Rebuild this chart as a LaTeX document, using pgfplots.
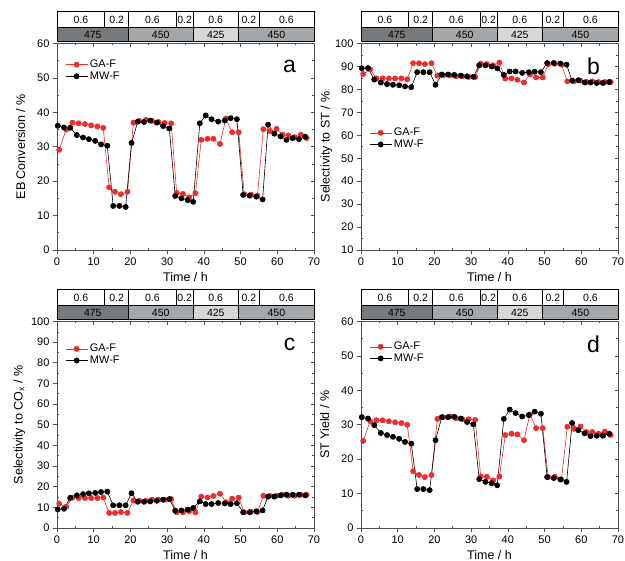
\documentclass[border=0pt]{standalone}
\usepackage{pgfplots}
\pgfplotsset{compat=1.18}
\usepackage{pgfplotstable}
\usepackage{fontspec}
\setmainfont{Liberation Sans}

\definecolor{gafred}{RGB}{236,45,45}
\definecolor{c475}{RGB}{118,122,124}
\definecolor{c450}{RGB}{163,167,169}
\definecolor{c425}{RGB}{214,215,216}
\definecolor{frame}{RGB}{80,80,80}

% GA-F (red)
\pgfplotstableread{
t    a    b    c    d
0.6  29.1 86.7 11.8 25.3
2.5  35.0 88.7 10.3 31.0
4.2  37.0 84.8 14.7 31.3
5.9  36.8 84.8 14.5 31.3
7.6  36.6 84.8 14.5 31.0
9.3  36.2 84.8 14.5 30.7
11.0 35.9 84.8 14.5 30.5
12.6 35.5 84.4 14.8 30.0
14.2 18.2 91.4 7.3  16.5
15.8 16.9 91.4 7.3  15.4
17.4 16.2 91.0 7.7  14.8
19.2 16.9 91.4 7.3  15.4
20.8 37.0 86.0 13.4 31.7
22.4 37.5 86.1 13.2 32.2
24.2 37.8 86.1 13.2 32.4
25.9 37.5 85.7 13.7 31.9
27.6 37.2 85.7 13.7 31.6
29.3 36.9 85.4 13.7 31.6
31.1 36.8 85.4 14.0 31.4
32.6 16.6 91.2 7.6  15.0
34.3 16.3 91.0 7.6  14.9
36.0 15.3 90.5 8.1  13.8
37.7 16.5 91.7 7.6  15.0
39.3 32.0 84.7 15.2 27.0
41.0 32.3 84.8 14.8 27.4
42.6 32.3 84.2 15.5 27.2
44.4 30.8 83.0 16.6 25.5
46.0 38.2 86.5 12.5 33.0
47.7 34.2 85.2 14.2 29.0
49.5 34.2 85.2 14.7 29.0
51.0 16.2 91.0 7.6  14.8
52.8 16.1 91.2 7.9  14.9
54.6 15.8 90.8 7.7  14.1
56.2 35.1 83.5 15.6 29.4
58.0 34.6 83.5 15.6 28.8
59.8 35.2 83.8 15.6 29.5
61.4 33.5 83.3 16.1 27.9
63.0 33.3 83.5 15.6 27.9
64.7 32.8 83.2 15.6 27.4
66.4 33.5 83.2 16.1 28.0
68.0 32.5 83.2 16.1 27.0
}\gaf

% MW-F (black)
\pgfplotstableread{
t    a    b    c    d
0.2  36.1 89.2 9.0  32.2
1.9  35.6 89.3 9.3  31.8
3.6  35.5 84.3 14.6 29.9
5.4  33.4 83.0 15.8 27.6
7.1  32.7 82.3 16.4 27.0
8.7  32.2 82.0 16.8 26.5
10.4 31.7 81.8 17.0 25.9
12.0 30.7 81.3 17.4 25.0
13.7 30.3 81.0 17.6 24.5
15.3 12.8 87.5 11.0 11.3
17.0 12.8 87.5 11.0 11.3
18.7 12.5 87.5 11.0 11.0
20.3 31.1 82.0 16.8 25.5
22.0 37.3 86.5 12.7 32.2
23.7 37.2 86.5 12.7 32.2
25.4 37.6 86.3 12.9 32.3
27.2 37.0 86.0 13.2 31.8
28.9 36.0 85.7 13.7 30.8
30.6 35.3 85.5 14.0 30.1
32.2 15.7 90.5 8.4  14.2
33.9 15.0 90.5 8.5  13.4
35.6 14.5 90.0 8.9  13.0
37.1 14.0 89.2 9.7  12.4
38.9 36.8 86.3 12.9 31.7
40.5 39.1 87.8 11.6 34.4
42.1 38.0 87.8 11.6 33.4
43.9 37.3 87.2 12.1 32.4
45.7 37.6 87.5 11.9 32.8
47.3 38.3 87.7 11.6 33.8
49.0 38.0 87.5 12.0 33.2
50.7 16.0 91.5 7.6  14.8
52.5 15.8 91.5 7.6  14.5
54.3 15.5 91.3 8.1  14.1
56.0 14.7 90.8 8.5  13.4
57.5 36.4 83.8 15.2 30.5
59.2 33.8 84.0 15.2 28.4
60.9 33.0 83.0 15.8 27.5
62.5 32.0 83.0 16.1 26.7
64.2 32.5 82.8 16.1 26.8
65.9 32.2 82.8 16.1 26.8
67.6 32.9 83.2 15.8 27.4
}\mwf

\pgfplotsset{
  common/.style={scale only axis, anchor=south west, width=257pt, height=206.5pt,
    xmin=0, xmax=70, xtick distance=10, ytick distance=10,
    /pgf/number format/assume math mode=true},
  base/.style={common, tick align=outside, xtick pos=lower, ytick pos=left,
    minor tick num=0, major tick length=4pt,
    tick style={frame, line width=0.6pt},
    axis line style={frame, line width=0.8pt},
    ticklabel style={font=\fontsize{11}{13}\selectfont},
    label style={font=\fontsize{12.5}{15}\selectfont},
    xlabel={Time / h},
    legend cell align=left,
    legend style={anchor=north west, draw=none, fill=none,
      font=\fontsize{11}{13}\selectfont, row sep=-1.5pt},
    legend image code/.code={%
      \draw[mark repeat=2,mark phase=2] plot coordinates {(0pt,0pt)(11pt,0pt)(22pt,0pt)};}},
  ovl/.style={common, tick align=inside, minor tick num=1,
    major tick length=3.5pt, minor tick length=2pt,
    tick style={frame, line width=0.6pt},
    axis line style={draw=none}, xticklabels={}, yticklabels={}},
  gafst/.style={color=gafred, line width=0.6pt, mark=*, mark size=2.6pt,
    mark options={draw=gafred, fill=gafred}},
  mwfst/.style={color=black, line width=0.6pt, mark=*, mark size=2.6pt,
    mark options={draw=black, fill=black}},
}

\newcommand{\vl}[3]{\draw[line width=0.6pt] (axis cs:#1,#2) -- (axis cs:#1,#3);}

\newcommand{\band}[2]{%
\begin{axis}[scale only axis, anchor=south west, at={(#1pt,#2pt)}, yshift=208.5pt,
  width=257pt, height=30pt, xmin=0, xmax=70, ymin=0, ymax=30, hide axis, clip=false]
  \fill[c475] (axis cs:0,0) rectangle (axis cs:19.5,14);
  \fill[c450] (axis cs:19.5,0) rectangle (axis cs:37,14);
  \fill[c425] (axis cs:37,0) rectangle (axis cs:49.5,14);
  \fill[c450] (axis cs:49.5,0) rectangle (axis cs:70,14);
  \draw[line width=0.6pt] (axis cs:0,0) rectangle (axis cs:70,30);
  \draw[line width=0.6pt] (axis cs:0,14) -- (axis cs:70,14);
  \vl{19.5}{0}{14}\vl{37}{0}{14}\vl{49.5}{0}{14}
  \vl{13}{14}{30}\vl{19.5}{14}{30}\vl{32.5}{14}{30}
  \vl{37}{14}{30}\vl{49.5}{14}{30}\vl{55}{14}{30}
  \node[font=\fontsize{10.5}{12}\selectfont] at (axis cs:6.5,22) {0.6};
  \node[font=\fontsize{10.5}{12}\selectfont] at (axis cs:16.25,22) {0.2};
  \node[font=\fontsize{10.5}{12}\selectfont] at (axis cs:26,22) {0.6};
  \node[font=\fontsize{10.5}{12}\selectfont] at (axis cs:34.75,22) {0.2};
  \node[font=\fontsize{10.5}{12}\selectfont] at (axis cs:43.25,22) {0.6};
  \node[font=\fontsize{10.5}{12}\selectfont] at (axis cs:52.25,22) {0.2};
  \node[font=\fontsize{10.5}{12}\selectfont] at (axis cs:62.5,22) {0.6};
  \node[font=\fontsize{10.5}{12}\selectfont] at (axis cs:9.75,7) {475};
  \node[font=\fontsize{10.5}{12}\selectfont] at (axis cs:28.25,7) {450};
  \node[font=\fontsize{10.5}{12}\selectfont] at (axis cs:43.25,7) {425};
  \node[font=\fontsize{10.5}{12}\selectfont] at (axis cs:59.75,7) {450};
\end{axis}}

\newcommand{\panel}[9]{%
\begin{axis}[base, at={(#1pt,#2pt)}, ymin=#3, ymax=#4, ylabel={#5},
  ylabel shift=#9, legend style={at={(0.02,#8)}}]
  \addplot[gafst] table[x=t, y=#6] {\gaf};
  \addlegendentry{GA-F}
  \addplot[mwfst] table[x=t, y=#6] {\mwf};
  \addlegendentry{MW-F}
  \node[font=\fontsize{23}{25}\selectfont] at (rel axis cs:0.905,0.89) {#7};
\end{axis}
\begin{axis}[ovl, at={(#1pt,#2pt)}, ymin=#3, ymax=#4, xtick pos=upper, ytick pos=right]
\end{axis}
\begin{axis}[ovl, at={(#1pt,#2pt)}, ymin=#3, ymax=#4, xtick pos=lower, ytick pos=left,
  major tick length=0pt]
\end{axis}
\band{#1}{#2}}

\begin{document}
\begin{tikzpicture}
\useasboundingbox (0,0) rectangle (625pt,561pt);
\panel{57}{311}{0}{60}{EB Conversion / \%}{a}{a}{0.94}{5pt}
\panel{361}{311}{10}{100}{Selectivity to ST / \%}{b}{b}{0.61}{-4pt}
\panel{57}{33}{0}{100}{Selectivity to CO\textsubscript{x} / \%}{c}{c}{0.91}{-1pt}
\panel{361}{33}{0}{60}{ST Yield / \%}{d}{d}{0.92}{5pt}
\end{tikzpicture}
\end{document}
